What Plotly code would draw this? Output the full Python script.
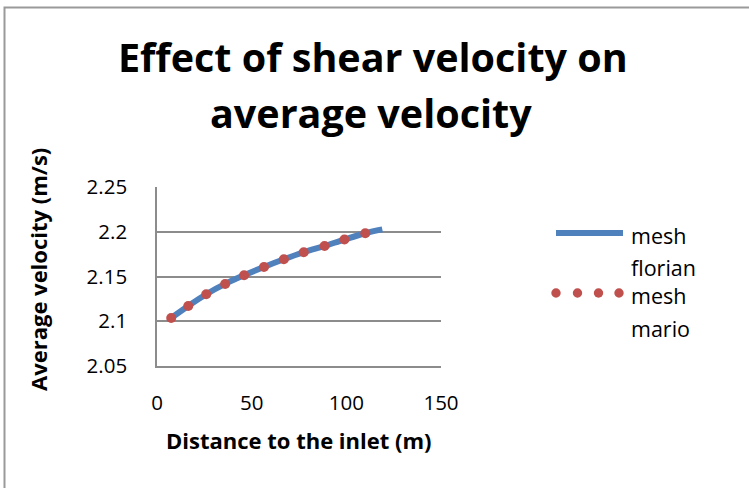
import plotly.graph_objects as go

# ---- data ----
mario_x = [7.5, 16.5, 26, 36, 46, 56.5, 67, 77.5, 88.5, 99, 110]
mario_y = [2.1037, 2.1171, 2.1302, 2.1417, 2.1514, 2.1607, 2.1693, 2.1771, 2.1841, 2.1913, 2.1983]
florian_x = [7.5, 16.5, 26, 36, 46, 56.5, 67, 77.5, 88.5, 99, 110, 119]
florian_y = [2.1037, 2.1171, 2.1302, 2.1417, 2.1514, 2.1607, 2.1693, 2.1771, 2.1841, 2.1913, 2.1983, 2.2026]
x_ticks = [0, 50, 100, 150]
y_ticks = [2.05, 2.1, 2.15, 2.2, 2.25]
y_tick_text = ["2.05", "2.1", "2.15", "2.2", "2.25"]

W, H = 749, 488
L, R, T, B = 157, 308, 187, 122
PW, PH = W - L - R, H - T - B
FONT = "Open Sans"
BLUE = "#4F81BD"
RED = "#C0504D"
GRID = "#8C8C8C"


def px(x):
    return (x - L) / PW


def py(y):
    return (H - B - y) / PH


fig = go.Figure()
fig.add_trace(go.Scatter(x=florian_x, y=florian_y, mode="lines", name="mesh florian",
                         line=dict(color=BLUE, width=6, shape="spline"), showlegend=False))
fig.add_trace(go.Scatter(x=mario_x, y=mario_y, mode="markers", name="mesh mario",
                         marker=dict(color=RED, size=10), showlegend=False))

shapes = [
    # outer chart border
    dict(type="rect", xref="paper", yref="paper", x0=px(4.5), x1=px(770), y0=py(510), y1=py(7.5),
         line=dict(color="#9a9a9a", width=2), layer="below"),
    # legend samples
    dict(type="line", xref="paper", yref="paper", x0=px(556), x1=px(623), y0=py(233), y1=py(233),
         line=dict(color=BLUE, width=6)),
]
for cx in [556, 577.5, 598.5, 619]:
    shapes.append(dict(type="circle", xref="paper", yref="paper",
                       x0=px(cx - 4.7), x1=px(cx + 4.7), y0=py(293 + 4.7), y1=py(293 - 4.7),
                       fillcolor=RED, line=dict(width=0)))

annotations = [
    dict(text="<b>Effect of shear velocity on</b>", x=px(373), y=py(57), xref="paper", yref="paper",
         showarrow=False, xanchor="center", yanchor="middle", font=dict(size=39.5, color="black", family=FONT)),
    dict(text="<b>average velocity</b>", x=px(371), y=py(113), xref="paper", yref="paper",
         showarrow=False, xanchor="center", yanchor="middle", font=dict(size=39.5, color="black", family=FONT)),
    dict(text="<b>Distance to the inlet (m)</b>", x=px(299), y=py(440), xref="paper", yref="paper",
         showarrow=False, xanchor="center", yanchor="middle", font=dict(size=22, color="black", family=FONT)),
    dict(text="<b>Average velocity (m/s)</b>", x=px(38), y=py(270), xref="paper", yref="paper",
         showarrow=False, xanchor="center", yanchor="middle", textangle=-90,
         font=dict(size=22, color="black", family=FONT)),
]
for txt, yy in [("mesh", 235), ("florian", 267), ("mesh", 295), ("mario", 328)]:
    annotations.append(dict(text=txt, x=px(629), y=py(yy), xref="paper", yref="paper", showarrow=False,
                            xanchor="left", yanchor="middle", font=dict(size=21.5, color="black", family=FONT)))

fig.update_layout(
    width=W, height=H,
    margin=dict(l=L, r=R, t=T, b=B, autoexpand=False),
    paper_bgcolor="white", plot_bgcolor="white",
    font=dict(family=FONT, color="black", size=20),
    shapes=shapes, annotations=annotations,
    showlegend=False,
)
fig.update_xaxes(range=[0, 150], tickvals=x_ticks, showgrid=False, zeroline=False,
                 showline=True, linecolor=GRID, linewidth=1.5, ticks="",
                 ticklabelstandoff=18, tickfont=dict(size=20.5, family=FONT, color="black"))
fig.update_yaxes(range=[2.05, 2.25], tickvals=y_ticks, ticktext=y_tick_text, showgrid=True,
                 gridcolor=GRID, gridwidth=1.5, zeroline=False,
                 showline=True, linecolor=GRID, linewidth=1.5, ticks="",
                 ticklabelstandoff=24, tickfont=dict(size=20.5, family=FONT, color="black"))

fig.write_html("out.html")
